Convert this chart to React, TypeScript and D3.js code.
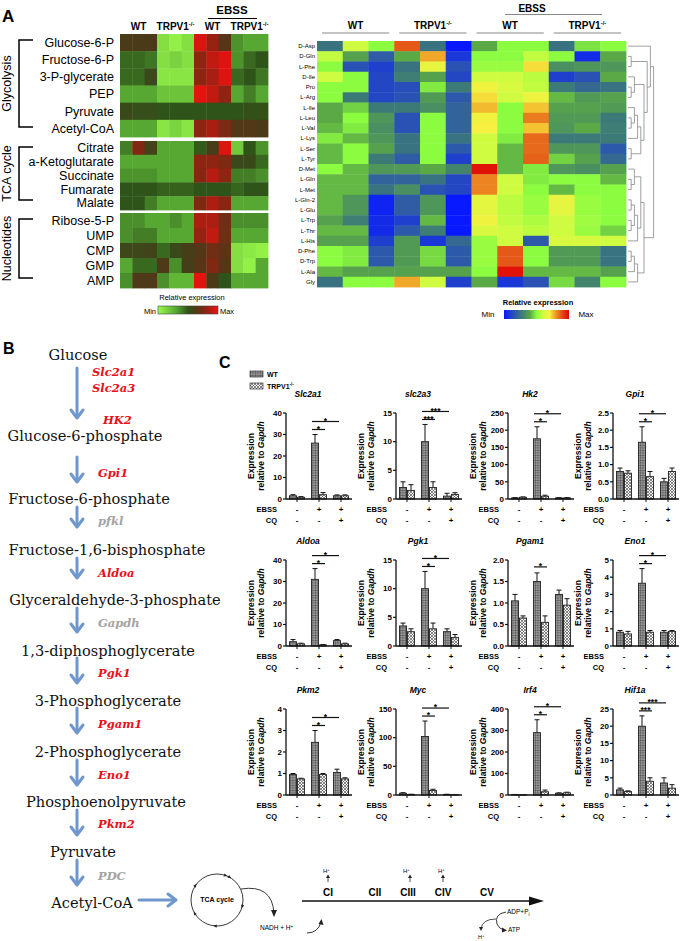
import * as d3 from 'd3'

// ---------- panel A, left heatmap ----------
const glycolysisRows = ['Glucose-6-P', 'Fructose-6-P', '3-P-glycerate', 'PEP', 'Pyruvate', 'Acetyl-CoA']
const tcaRows = ['Citrate', 'a-Ketoglutarate', 'Succinate', 'Fumarate', 'Malate']
const nucleotideRows = ['Ribose-5-P', 'UMP', 'CMP', 'GMP', 'AMP']

const glycolysisValues = [
  [0.62, 0.62, 0.62, 0.1, 0.04, 0.1, 0.95, 0.82, 0.66, 0.35, 0.3, 0.3],
  [0.45, 0.45, 0.42, 0.1, 0.15, 0.1, 0.8, 0.9, 0.96, 0.35, 0.45, 0.5],
  [0.45, 0.45, 0.55, 0.08, 0.08, 0.08, 0.8, 0.85, 0.96, 0.45, 0.5, 0.42],
  [0.3, 0.3, 0.3, 0.2, 0.2, 0.2, 0.97, 0.9, 0.8, 0.3, 0.4, 0.3],
  [0.55, 0.53, 0.53, 0.5, 0.5, 0.5, 0.5, 0.5, 0.5, 0.5, 0.52, 0.52],
  [0.3, 0.3, 0.3, 0.08, 0.14, 0.08, 0.8, 0.85, 0.75, 0.64, 0.64, 0.62],
]
const tcaValues = [
  [0.4, 0.76, 0.58, 0.3, 0.3, 0.3, 0.48, 0.6, 0.96, 0.18, 0.5, 0.35],
  [0.3, 0.3, 0.3, 0.3, 0.3, 0.3, 0.8, 0.8, 0.76, 0.55, 0.55, 0.45],
  [0.35, 0.35, 0.35, 0.3, 0.3, 0.3, 0.78, 0.88, 0.8, 0.4, 0.4, 0.36],
  [0.5, 0.5, 0.5, 0.47, 0.47, 0.47, 0.5, 0.5, 0.5, 0.46, 0.5, 0.5],
  [0.5, 0.5, 0.4, 0.3, 0.3, 0.3, 0.76, 0.86, 0.78, 0.3, 0.3, 0.3],
]
const nucleotideValues = [
  [0.36, 0.36, 0.3, 0.3, 0.36, 0.3, 0.86, 0.86, 0.72, 0.36, 0.36, 0.36],
  [0.36, 0.4, 0.4, 0.3, 0.3, 0.3, 0.82, 0.9, 0.72, 0.3, 0.3, 0.3],
  [0.56, 0.56, 0.58, 0.45, 0.55, 0.6, 0.64, 0.72, 0.68, 0.1, 0.07, 0.04],
  [0.3, 0.45, 0.45, 0.63, 0.36, 0.6, 0.66, 0.76, 0.66, 0.1, 0.04, 0.3],
  [0.36, 0.63, 0.63, 0.36, 0.25, 0.25, 0.97, 0.62, 0.5, 0.3, 0.3, 0.3],
]

// ---------- panel A, right heatmap ----------
const aminoRows = ['D-Asp', 'D-Gln', 'L-Phe', 'D-Ile', 'Pro', 'L-Arg', 'L-Ile', 'L-Leu', 'L-Val', 'L-Lys', 'L-Ser', 'L-Tyr',
  'D-Met', 'L-Gln', 'L-Met', 'L-Gln-2', 'L-Glu', 'L-Trp', 'L-Thr', 'L-His', 'D-Phe', 'D-Trp', 'L-Ala', 'Gly']
const aminoValues = [
  [0.25, 0.6, 0.5, 0.87, 0.25, 0.0, 0.4, 0.5, 0.5, 0.25, 0.47, 0.5],
  [0.58, 0.38, 0.18, 0.4, 0.78, 0.08, 0.5, 0.5, 0.58, 0.5, 0.05, 0.4],
  [0.5, 0.15, 0.1, 0.25, 0.66, 0.15, 0.52, 0.52, 0.72, 0.33, 0.35, 0.35],
  [0.6, 0.5, 0.12, 0.28, 0.38, 0.12, 0.6, 0.6, 0.57, 0.1, 0.15, 0.4],
  [0.5, 0.5, 0.12, 0.14, 0.48, 0.27, 0.68, 0.62, 0.58, 0.27, 0.22, 0.25],
  [0.5, 0.27, 0.12, 0.15, 0.36, 0.17, 0.72, 0.6, 0.68, 0.42, 0.36, 0.38],
  [0.4, 0.45, 0.27, 0.27, 0.33, 0.2, 0.76, 0.5, 0.75, 0.38, 0.38, 0.36],
  [0.4, 0.5, 0.35, 0.15, 0.5, 0.2, 0.68, 0.5, 0.83, 0.36, 0.36, 0.27],
  [0.42, 0.48, 0.33, 0.15, 0.5, 0.2, 0.7, 0.5, 0.75, 0.35, 0.4, 0.28],
  [0.48, 0.42, 0.35, 0.25, 0.5, 0.25, 0.6, 0.48, 0.85, 0.27, 0.27, 0.27],
  [0.42, 0.5, 0.38, 0.25, 0.5, 0.17, 0.6, 0.42, 0.85, 0.35, 0.35, 0.17],
  [0.42, 0.5, 0.27, 0.18, 0.5, 0.1, 0.6, 0.42, 0.86, 0.45, 0.38, 0.22],
  [0.5, 0.42, 0.35, 0.36, 0.4, 0.3, 0.98, 0.42, 0.48, 0.35, 0.33, 0.38],
  [0.42, 0.42, 0.2, 0.2, 0.25, 0.12, 0.82, 0.6, 0.48, 0.5, 0.5, 0.42],
  [0.42, 0.42, 0.25, 0.33, 0.15, 0.12, 0.82, 0.6, 0.5, 0.42, 0.5, 0.5],
  [0.42, 0.35, 0.03, 0.18, 0.35, 0.0, 0.65, 0.57, 0.52, 0.66, 0.52, 0.5],
  [0.42, 0.35, 0.03, 0.18, 0.35, 0.0, 0.65, 0.57, 0.52, 0.65, 0.52, 0.5],
  [0.38, 0.28, 0.05, 0.1, 0.42, 0.0, 0.68, 0.58, 0.55, 0.6, 0.53, 0.5],
  [0.42, 0.42, 0.05, 0.17, 0.28, 0.0, 0.63, 0.6, 0.57, 0.6, 0.52, 0.45],
  [0.38, 0.38, 0.1, 0.36, 0.08, 0.22, 0.52, 0.6, 0.17, 0.62, 0.62, 0.6],
  [0.5, 0.48, 0.17, 0.36, 0.46, 0.17, 0.52, 0.87, 0.5, 0.36, 0.36, 0.25],
  [0.5, 0.48, 0.17, 0.36, 0.46, 0.17, 0.52, 0.87, 0.5, 0.36, 0.36, 0.25],
  [0.42, 0.38, 0.38, 0.38, 0.38, 0.38, 0.5, 0.98, 0.42, 0.42, 0.42, 0.38],
  [0.25, 0.5, 0.5, 0.78, 0.6, 0.1, 0.4, 0.08, 0.15, 0.46, 0.3, 0.5],
]
const aminoTree: any = [
  ['D-Asp', [['D-Gln', 'L-Phe'], [['D-Ile', ['Pro', 'L-Arg']], [[['L-Ile', ['L-Leu', 'L-Val']], 'L-Lys'], ['L-Ser', 'L-Tyr']]]]],
  [[['D-Met', ['L-Gln', 'L-Met']], [[['L-Gln-2', 'L-Glu'], ['L-Trp', 'L-Thr']], 'L-His']], [[['D-Phe', 'D-Trp'], 'L-Ala'], 'Gly']],
]

// ---------- panel B ----------
const metabolites = ['Glucose', 'Glucose-6-phosphate', 'Fructose-6-phosphate', 'Fructose-1,6-bisphosphate',
  'Glyceraldehyde-3-phosphate', '1,3-diphosphoglycerate', '3-Phosphoglycerate', '2-Phosphoglycerate',
  'Phosphoenolpyruvate', 'Pyruvate', 'Acetyl-CoA']
const enzymes = [['Slc2a1', 'Slc2a3', 'HK2'], ['Gpi1'], ['pfkl'], ['Aldoa'], ['Gapdh'], ['Pgk1'], ['Pgam1'], ['Eno1'], ['Pkm2'], ['PDC']]
const enzymeMeasured = [[true, true, true], [true], [false], [true], [false], [true], [true], [true], [true], [false]]

// ---------- panel C ----------
const genes = ['Slc2a1', 'slc2a3', 'Hk2', 'Gpi1', 'Aldoa', 'Pgk1', 'Pgam1', 'Eno1', 'Pkm2', 'Myc', 'Irf4', 'Hif1a']
const yMax = [40, 15, 250, 2.5, 40, 15, 2.0, 5, 4, 150, 400, 25]
const yStep = [10, 5, 50, 0.5, 10, 5, 0.5, 1, 1, 50, 100, 5]
const yDecimals = [0, 0, 0, 1, 0, 0, 1, 0, 0, 0, 0, 0]
const conditions = ['basal', 'EBSS', 'EBSS+CQ']
const ebssSigns = ['-', '+', '+']
const cqSigns = ['-', '-', '+']
const wtMean = [
  [1.5, 26, 1.5], [2, 10, 0.5], [3, 175, 3], [0.8, 1.65, 0.5], [2, 31, 2.5], [3.5, 10, 2.5],
  [1.05, 1.5, 1.2], [0.8, 3.65, 0.8], [0.95, 2.45, 1.05], [3, 102, 1], [2, 290, 8], [1.5, 20, 3.5],
]
const wtErr = [
  [0.5, 4, 0.4], [1, 3, 0.5], [1, 35, 1], [0.1, 0.45, 0.1], [1, 5, 0.5], [0.5, 3, 0.5],
  [0.15, 0.2, 0.1], [0.1, 0.85, 0.1], [0.05, 0.55, 0.15], [1, 27, 0.3], [0.5, 60, 2], [0.5, 3, 1.5],
]
const koMean = [
  [0.8, 2, 1.5], [1.5, 2, 0.8], [5, 8, 3], [0.75, 0.65, 0.8], [1, 0.5, 1], [2.5, 3, 1.5],
  [0.65, 0.55, 0.95], [0.7, 0.8, 0.85], [0.75, 0.95, 0.75], [1, 8, 0.5], [1, 15, 10], [1, 4, 2],
]
const koErr = [
  [0.3, 1, 0.4], [1, 1, 0.3], [1, 3, 1], [0.07, 0.15, 0.1], [0.3, 0.2, 0.3], [0.5, 1, 0.5],
  [0.05, 0.15, 0.15], [0.15, 0.1, 0.05], [0.03, 0.05, 0.05], [0.3, 2, 0.2], [0.3, 8, 3], [0.2, 1, 1],
]
const sigStars = ['*', '***', '*', '*', '*', '*', '*', '*', '*', '*', '*', '***']
const sigPairs = [2, 2, 2, 2, 2, 2, 1, 2, 2, 2, 2, 2]

const SANS = 'Liberation Sans, Arial, sans-serif'
const SERIF = 'DejaVu Serif, serif'

const greenRed = d3.scaleLinear<string>()
  .domain([0, 0.3, 0.5, 0.62, 0.8, 1])
  .range(['#9cfb4a', '#56a832', '#2f5419', '#4a3a18', '#8e2412', '#f21010'])
const jet = d3.scaleLinear<string>()
  .domain([0, 0.15, 0.27, 0.4, 0.5, 0.6, 0.7, 0.78, 0.87, 1])
  .range(['#0818ff', '#2a52b4', '#3c7a78', '#5aa846', '#8cfc40', '#cffc40', '#f8f040', '#f0a828', '#e45818', '#e00606'])

const LeftHeatmap = () => {
  const x = d3.scaleBand<number>().domain(d3.range(12)).range([120, 268])
  const blocks = [
    { rows: glycolysisRows, values: glycolysisValues, y0: 34, y1: 137, name: 'Glycolysis' },
    { rows: tcaRows, values: tcaValues, y0: 141, y1: 210, name: 'TCA cycle' },
    { rows: nucleotideRows, values: nucleotideValues, y0: 213, y1: 288, name: 'Nucleotides' },
  ]
  const heads = [['WT', 0], ['TRPV1', 3], ['WT', 6], ['TRPV1', 9]] as [string, number][]
  return (
    <g>
      <text x={2} y={22} fontFamily={SANS} fontWeight="bold" fontSize={17}>A</text>
      <text x={232} y={14} fontFamily={SANS} fontSize={11.5} fontWeight="bold" textAnchor="middle">EBSS</text>
      <line x1={208} x2={257} y1={18.5} y2={18.5} stroke="#000" strokeWidth={1.2} />
      {heads.map(([t, c], i) => (
        <text key={i} x={(x(c)! + x(c + 2)! + x.bandwidth()) / 2} y={30} fontFamily={SANS} fontSize={10} fontWeight="bold" textAnchor="middle">
          {t}{t === 'TRPV1' && <tspan dy={-4} fontSize={6}>-/-</tspan>}
        </text>
      ))}
      {blocks.map((b, bi) => {
        const y = d3.scaleBand<string>().domain(b.rows).range([b.y0, b.y1])
        const mid = (b.y0 + b.y1) / 2
        return (
          <g key={bi}>
            {b.values.map((row, ri) => row.map((v, ci) => (
              <rect key={ri + '-' + ci} x={x(ci)} y={y(b.rows[ri])} width={x.bandwidth() + 0.4} height={y.bandwidth() + 0.4} fill={greenRed(v)} />
            )))}
            {b.rows.map(r => (
              <text key={r} x={114} y={y(r)! + y.bandwidth() / 2} dy="0.35em" fontFamily={SANS} fontSize={12.5} textAnchor="end">{r}</text>
            ))}
            <path d={`M33,${b.y0 + 6}H19V${b.y1 - 10}H33`} fill="none" stroke="#000" strokeWidth={1.5} />
            <text transform={`translate(11,${mid - 2}) rotate(-90)`} fontFamily={SANS} fontSize={12.5} textAnchor="middle">{b.name}</text>
          </g>
        )
      })}
      <text x={192} y={300} fontFamily={SANS} fontSize={7.5} textAnchor="middle">Relative expression</text>
      <text x={150} y={314} fontFamily={SANS} fontSize={7.5} textAnchor="middle">Min</text>
      <rect x={158} y={306} width={60} height={8} fill="url(#gradGR)" stroke="#444" strokeWidth={0.6} />
      <text x={227} y={314} fontFamily={SANS} fontSize={7.5} textAnchor="middle">Max</text>
    </g>
  )
}

const RightHeatmap = () => {
  const x = d3.scaleBand<number>().domain(d3.range(12)).range([317, 626])
  const y = d3.scaleBand<string>().domain(aminoRows).range([41, 287])
  const heads = [['WT', 0], ['TRPV1', 3], ['WT', 6], ['TRPV1', 9]] as [string, number][]
  const root = d3.hierarchy(aminoTree, (d: any) => (Array.isArray(d) ? d : null))
  const pos = new Map<any, [number, number]>()
  root.eachAfter((n: any) => {
    const px = 628 + n.height * 3.2
    const py = n.children ? d3.mean(n.children, (c: any) => pos.get(c)![1])! : y(n.data)! + y.bandwidth() / 2
    pos.set(n, [n.children ? px : 628, py])
  })
  const links: string[] = []
  root.each((n: any) => {
    if (!n.children) return
    const [px, py] = pos.get(n)!
    n.children.forEach((c: any) => {
      const [cx, cy] = pos.get(c)!
      links.push(`M${cx},${cy}H${px}V${py}`)
    })
  })
  return (
    <g>
      <text x={532} y={12} fontFamily={SANS} fontSize={10} fontWeight="bold" textAnchor="middle">EBSS</text>
      <line x1={505} x2={602} y1={14.5} y2={14.5} stroke="#888" strokeWidth={1} />
      {heads.map(([t, c], i) => {
        const x0 = x(c)! + 5, x1 = x(c + 2)! + x.bandwidth() - 5
        return (
          <g key={i}>
            <text x={(x0 + x1) / 2} y={29} fontFamily={SANS} fontSize={10} fontWeight="bold" textAnchor="middle">
              {t}{t === 'TRPV1' && <tspan dy={-4} fontSize={6}>-/-</tspan>}
            </text>
            <line x1={x0} x2={x1} y1={33} y2={33} stroke="#888" strokeWidth={1} />
          </g>
        )
      })}
      {aminoValues.map((row, ri) => row.map((v, ci) => (
        <rect key={ri + '-' + ci} x={x(ci)} y={y(aminoRows[ri])} width={x.bandwidth() + 0.4} height={y.bandwidth() + 0.4} fill={jet(v)} />
      )))}
      {aminoRows.map(r => (
        <text key={r} x={315} y={y(r)! + y.bandwidth() / 2} dy="0.35em" fontFamily={SANS} fontSize={6} textAnchor="end">{r}</text>
      ))}
      {links.map((d, i) => <path key={i} d={d} fill="none" stroke="#777" strokeWidth={0.7} />)}
      <text x={538} y={305} fontFamily={SANS} fontSize={7.5} fontWeight="bold" textAnchor="middle">Relative expression</text>
      <text x={488} y={317} fontFamily={SANS} fontSize={8} textAnchor="middle">Min</text>
      <rect x={504} y={310} width={65} height={9} fill="url(#gradJet)" />
      <text x={586} y={317} fontFamily={SANS} fontSize={8} textAnchor="middle">Max</text>
    </g>
  )
}

const DownArrow = ({ x, y1, y2 }: { x: number, y1: number, y2: number }) => (
  <g stroke="#7097cc" strokeWidth={3} fill="none" strokeLinecap="round">
    <line x1={x} x2={x} y1={y1} y2={y2 - 1} />
    <path d={`M${x - 6},${y2 - 8}L${x},${y2}L${x + 6},${y2 - 8}`} strokeLinejoin="round" />
  </g>
)

const metaboliteY = [355, 436, 499, 550, 600, 651, 701, 752, 802, 852, 903]
const metaboliteX = [78, 85, 89, 107, 115, 108, 108, 108, 106, 83, 92]
const arrowSpans = [[368, 418], [457, 482], [507, 527], [558, 578], [608, 632], [658, 683], [708, 733], [760, 785], [810, 835], [860, 885]]
const enzymeY = [[372, 388, 420], [473], [521], [573], [623], [673], [724], [775], [824], [876]]

const PanelB = () => (
  <g>
    <text x={3} y={354} fontFamily={SANS} fontWeight="bold" fontSize={16}>B</text>
    {metabolites.map((m, i) => (
      <text key={m} x={metaboliteX[i]} y={metaboliteY[i]} dy="0.35em" fontFamily={SERIF} fontSize={14.6} textAnchor="middle" fill="#111">{m}</text>
    ))}
    {arrowSpans.map(([a, b], i) => <DownArrow key={i} x={77} y1={a} y2={b} />)}
    {enzymes.map((es, i) => es.map((e, j) => (
      <text key={e} x={e === 'HK2' ? 103 : (e.startsWith('Slc') ? 92 : 98)} y={enzymeY[i][j]} dy="0.35em"
        fontFamily={SERIF} fontSize={11.5} fontStyle="italic" fontWeight="bold"
        fill={enzymeMeasured[i][j] ? '#e8101a' : '#a3a3a3'}>{e}</text>
    )))}
    <g stroke="#7097cc" strokeWidth={3} fill="none" strokeLinecap="round" strokeLinejoin="round">
      <line x1={139} x2={175} y1={900} y2={900} />
      <path d="M168,894L176,900L168,906" />
    </g>
  </g>
)

const ETC = () => {
  const circleMarks = [-60, 15, 95, 150, 215, 290]
  const complexes = [['CI', 328], ['CII', 375], ['CIII', 408], ['CIV', 443], ['CV', 487]] as [string, number][]
  const protons = [[323, 328], [403, 410], [438, 443]]
  return (
    <g fontFamily={SANS}>
      <circle cx={217} cy={900} r={26} fill="none" stroke="#222" strokeWidth={0.9} />
      {circleMarks.map((a, i) => {
        const r = (a * Math.PI) / 180
        const cx = 217 + 26 * Math.cos(r), cy = 900 + 26 * Math.sin(r)
        return <path key={i} d="M-2,-1.6L1.5,0L-2,1.6Z" fill="#222" transform={`translate(${cx},${cy}) rotate(${a + 90})`} />
      })}
      <text x={217} y={902} fontSize={7} fontWeight="bold" textAnchor="middle">TCA cycle</text>
      <path d="M241,889 Q272,884 274,913" fill="none" stroke="#222" strokeWidth={0.9} />
      <path d="M271,910L274,917L277,910Z" fill="#222" />
      <text x={260} y={930} fontSize={6.5}>NADH + H<tspan dy={-2} fontSize={4.5}>+</tspan></text>
      <path d="M307,933 Q318,933 321,922" fill="none" stroke="#222" strokeWidth={0.9} />
      <path d="M318.5,924L321.5,919L323.5,925Z" fill="#222" />
      <line x1={302} x2={531} y1={901} y2={901} stroke="#111" strokeWidth={1.6} />
      <path d="M529,896.5L544,901L529,905.5Z" fill="#111" />
      {complexes.map(([c, x]) => (
        <text key={c} x={x} y={896} fontSize={10} fontWeight="bold" textAnchor="middle">{c}</text>
      ))}
      {protons.map(([tx, ax], i) => (
        <g key={i}>
          <text x={tx} y={873} fontSize={6}>H<tspan dy={-2} fontSize={4}>+</tspan></text>
          <line x1={ax} x2={ax} y1={882} y2={877} stroke="#222" strokeWidth={0.8} />
          <path d={`M${ax - 2},${878}L${ax},${874.5}L${ax + 2},${878}Z`} fill="#222" />
        </g>
      ))}
      <text x={507} y={914} fontSize={6.5}>ADP+P<tspan dy={2} fontSize={4.5}>i</tspan></text>
      <path d="M506,912 Q494,914 497,924 Q499,929 504,930" fill="none" stroke="#222" strokeWidth={0.9} />
      <path d="M502,927.5L507,930.5L502,932.5Z" fill="#222" />
      <text x={508} y={932} fontSize={6.5}>ATP</text>
      <path d="M496,919 Q482,919 481,929" fill="none" stroke="#222" strokeWidth={0.8} />
      <path d="M479,927L481,931L483,927Z" fill="#222" />
      <text x={478} y={939} fontSize={5.5}>H<tspan dy={-2} fontSize={4}>+</tspan></text>
    </g>
  )
}

const colX = [286, 396, 508, 613]
const rowTop = [413, 560, 709]
const PLOT_W = 66
const PLOT_H = 86

const BarChart = ({ i }: { i: number }) => {
  const ax = colX[i % 4]
  const top = rowTop[Math.floor(i / 4)]
  const bottom = top + PLOT_H
  const y = d3.scaleLinear().domain([0, yMax[i]]).range([bottom, top])
  const g = d3.scaleBand<string>().domain(conditions).range([ax, ax + PLOT_W]).padding(0)
  const ticks = d3.range(0, yMax[i] + yStep[i] / 2, yStep[i])
  const fmt = d3.format(`.${yDecimals[i]}f`)
  const bw = 7
  const center = (c: string) => g(c)! + g.bandwidth() / 2
  const bars = conditions.flatMap((c, ci) => [
    { x: center(c) - bw - 0.5, v: wtMean[i][ci], e: wtErr[i][ci], fill: 'url(#wtPat)' },
    { x: center(c) + 0.5, v: koMean[i][ci], e: koErr[i][ci], fill: 'url(#koPat)' },
  ])
  const errTop = y(wtMean[i][1] + wtErr[i][1])
  const xA = center('EBSS') - bw / 2 - 0.5
  const xB = center('EBSS') + bw / 2 + 0.5
  const xC = center('EBSS+CQ') - bw / 2 - 0.5
  const sig = sigPairs[i] === 2
    ? [{ y: errTop - 5, x1: xA - 3, x2: xB + 2 }, { y: errTop - 13, x1: xA - 3, x2: xC + 2 }]
    : [{ y: errTop - 6, x1: xA - 3, x2: xB + 2 }]
  const midY = (top + bottom) / 2
  return (
    <g fontFamily={SANS}>
      <text x={ax + 22} y={top - 16} fontSize={8.5} fontWeight="bold" fontStyle="italic" textAnchor="middle">{genes[i]}</text>
      <text transform={`translate(${ax - 32},${midY}) rotate(-90)`} fontSize={8.5} fontWeight="bold" textAnchor="middle">Expression</text>
      <text transform={`translate(${ax - 22},${midY}) rotate(-90)`} fontSize={8.5} fontWeight="bold" textAnchor="middle">
        relative to <tspan fontStyle="italic">Gapdh</tspan>
      </text>
      {bars.map((b, k) => (
        <g key={k}>
          <line x1={b.x + bw / 2} x2={b.x + bw / 2} y1={y(b.v)} y2={y(b.v + b.e)} stroke="#111" strokeWidth={1} />
          <line x1={b.x + bw / 2 - 2.5} x2={b.x + bw / 2 + 2.5} y1={y(b.v + b.e)} y2={y(b.v + b.e)} stroke="#111" strokeWidth={1} />
          <rect x={b.x} y={y(b.v)} width={bw} height={bottom - y(b.v)} fill={b.fill} stroke="#222" strokeWidth={0.9} />
        </g>
      ))}
      <line x1={ax} x2={ax} y1={top} y2={bottom} stroke="#111" strokeWidth={1.3} />
      <line x1={ax} x2={ax + PLOT_W} y1={bottom} y2={bottom} stroke="#111" strokeWidth={1.3} />
      {ticks.map(t => (
        <g key={t}>
          <line x1={ax - 3} x2={ax} y1={y(t)} y2={y(t)} stroke="#111" strokeWidth={1.2} />
          <text x={ax - 4} y={y(t)} dy="0.35em" fontSize={8} fontWeight="bold" textAnchor="end">{fmt(t)}</text>
        </g>
      ))}
      {conditions.map(c => (
        <line key={c} x1={center(c)} x2={center(c)} y1={bottom} y2={bottom + 3} stroke="#111" strokeWidth={1} />
      ))}
      {sig.map((s, k) => (
        <g key={k}>
          <line x1={s.x1} x2={s.x2} y1={s.y} y2={s.y} stroke="#111" strokeWidth={1.2} />
          <text x={(s.x1 + s.x2) / 2} y={s.y + 2.2} fontSize={8.5} fontWeight="bold" textAnchor="middle">{sigStars[i]}</text>
        </g>
      ))}
      <text x={ax - 9} y={bottom + 13} fontSize={7.5} fontWeight="bold" textAnchor="end">EBSS</text>
      <text x={ax - 9} y={bottom + 24} fontSize={7.5} fontWeight="bold" textAnchor="end">CQ</text>
      {conditions.map((c, ci) => (
        <g key={c} fontSize={8} fontWeight="bold" textAnchor="middle">
          <text x={center(c)} y={bottom + 13}>{ebssSigns[ci]}</text>
          <text x={center(c)} y={bottom + 24}>{cqSigns[ci]}</text>
        </g>
      ))}
    </g>
  )
}

const PanelC = () => (
  <g fontFamily={SANS}>
    <text x={219} y={368} fontWeight="bold" fontSize={16}>C</text>
    <rect x={250} y={371} width={13} height={6} fill="url(#wtPat)" stroke="#333" strokeWidth={0.7} />
    <text x={267} y={377} fontSize={7} fontWeight="bold">WT</text>
    <rect x={250} y={383} width={13} height={6} fill="url(#koPat)" stroke="#333" strokeWidth={0.7} />
    <text x={267} y={389} fontSize={7} fontWeight="bold">TRPV1<tspan dy={-3} fontSize={4.5}>-/-</tspan></text>
    {genes.map((_, i) => <BarChart key={i} i={i} />)}
  </g>
)

export default function App() {
  const grStops = d3.range(0, 1.001, 0.1)
  return (
    <svg width={682} height={941} style={{ position: 'absolute', left: 0, top: 0, background: '#fff' }}>
      <defs>
        <linearGradient id="gradGR">
          {grStops.map(t => <stop key={t} offset={t} stopColor={greenRed(t)} />)}
        </linearGradient>
        <linearGradient id="gradJet">
          {grStops.map(t => <stop key={t} offset={t} stopColor={jet(t)} />)}
        </linearGradient>
        <pattern id="wtPat" width={2.5} height={2.5} patternUnits="userSpaceOnUse">
          <rect width={2.5} height={2.5} fill="#9a9a9a" />
          <path d="M0,0H2.5M0,0V2.5" stroke="#3e3e3e" strokeWidth={0.8} />
        </pattern>
        <pattern id="koPat" width={3} height={3} patternUnits="userSpaceOnUse">
          <rect width={3} height={3} fill="#f4f4f4" />
          <path d="M0,0L3,3M3,0L0,3" stroke="#555" strokeWidth={0.7} />
        </pattern>
      </defs>
      <rect width={682} height={941} fill="#fff" />
      <LeftHeatmap />
      <RightHeatmap />
      <PanelB />
      <ETC />
      <PanelC />
    </svg>
  )
}
